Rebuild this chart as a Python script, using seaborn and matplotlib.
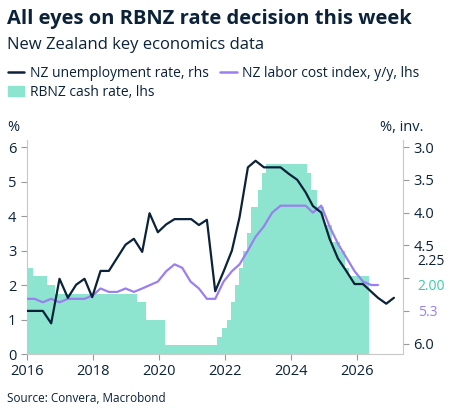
import matplotlib
matplotlib.use("Agg")
import matplotlib.pyplot as plt
import seaborn as sns
import numpy as np
import pandas as pd
from matplotlib.patches import Patch
from matplotlib.lines import Line2D

sns.set_style("ticks")
plt.rcParams['font.family'] = ['Open Sans', 'DejaVu Sans']

NAVY = "#0b2239"; PURPLE = "#9b7ff0"; TEAL = "#8de5cf"; TEALTXT = "#3cc9a8"

# Cash rate steps (start year, level)
cash_x = [2016.0, 2016.18, 2016.6, 2016.85, 2019.35, 2019.6, 2020.2, 2021.75, 2021.9, 2022.05,
          2022.18, 2022.3, 2022.42, 2022.54, 2022.66, 2022.8, 2023.0, 2023.13, 2023.26, 2024.48,
          2024.62, 2024.78, 2025.0, 2025.26, 2025.5, 2025.64, 2025.77, 2026.38]
cash_y = [2.5, 2.25, 2.0, 1.75, 1.5, 1.0, 0.25, 0.5, 0.75, 1.0,
          1.5, 2.0, 2.5, 3.0, 3.5, 4.25, 4.75, 5.25, 5.5, 5.25,
          4.75, 4.25, 3.75, 3.25, 3.0, 2.5, 2.25, 2.25]

unemp_px = [82,130,155,180,205,230,255,278,303,328,353,378,403,428,450,475,500,525,550,575,598,622,
            647,672,697,720,745,768,793,843,868,893,918,940,965,990,1015,1040,1065,1090,1135,1160,1183]
unemp = [5.5,5.5,5.69,5.01,5.3,5.1,5.01,5.29,4.89,4.89,4.69,4.49,4.4,4.6,4.01,4.3,4.18,4.1,4.1,4.1,4.19,4.11,
         5.2,4.9,4.58,4.07,3.31,3.21,3.31,3.31,3.41,3.5,3.69,3.9,4.0,4.4,4.7,4.89,5.09,5.09,5.3,5.39,5.3]
unemp_x = [2016 + (p - 82) / 99 for p in unemp_px]

lci_px = [82,105,130,155,180,205,255,280,303,328,353,378,403,428,475,500,525,548,573,598,622,647,672,697,
          720,745,768,793,818,843,918,940,965,990,1015,1040,1065,1090,1115,1135]
lci = [1.6,1.6,1.5,1.6,1.5,1.6,1.6,1.7,1.9,1.8,1.8,1.9,1.8,1.9,2.1,2.4,2.6,2.5,2.1,1.9,1.6,1.6,2.1,2.4,
       2.6,3.0,3.4,3.7,4.1,4.3,4.3,4.1,4.3,3.7,3.2,2.8,2.4,2.1,2.0,2.0]
lci_x = [2016 + (p - 82) / 99 for p in lci_px]

fig = plt.figure(figsize=(4.55, 4.17), dpi=100)
ax = fig.add_axes([0.059, 0.151, 0.827, 0.513])
ax.fill_between(cash_x, cash_y, step='post', color=TEAL, lw=0, zorder=1)
sns.lineplot(x=lci_x, y=lci, ax=ax, color=PURPLE, lw=1.6, zorder=3)
ax.set_xlim(2016, 2027.4)
ax.set_ylim(0, 6.2)
ax.set_xticks(range(2016, 2027, 2))
ax.set_yticks(range(0, 7))
ax2 = ax.twinx()
sns.lineplot(x=unemp_x, y=unemp, ax=ax2, color=NAVY, lw=1.6, zorder=4)
ax2.set_ylim(3.0 + 6 * 3 / 5.7, 3.0 - 0.2 * 3 / 5.7)
ax2.set_yticks([3.0, 3.5, 4.0, 4.5, 5.0, 5.5, 6.0])
ax2.set_yticklabels(["3.0", "3.5", "4.0", "4.5", "", "", "6.0"])
ax.set_zorder(ax2.get_zorder() + 1); ax.patch.set_visible(False)
# keep unemployment line on top: draw on ax2 then reorder
ax.set_zorder(0); ax2.set_zorder(1); ax2.patch.set_visible(False)

for a in (ax, ax2):
    for s in a.spines.values():
        s.set_color("#c8c8c8")
    a.spines['top'].set_visible(False)
    a.tick_params(colors=NAVY, labelsize=10.5, length=4)
    a.tick_params(axis='both', color="#999999")
ax.spines['right'].set_visible(False)
ax2.spines['left'].set_visible(False)
ax2.spines['bottom'].set_visible(False)

bb = dict(facecolor='white', edgecolor='none', pad=0.5)
fig.text(0.918, 0.372, "2.25", color=NAVY, fontsize=10, ha='left', va='center', bbox=bb)
fig.text(0.918, 0.312, "2.00", color=TEALTXT, fontsize=10, ha='left', va='center')
fig.text(0.918, 0.250, "5.3", color=PURPLE, fontsize=10, ha='left', va='center')

fig.text(0.015, 0.685, "%", color=NAVY, fontsize=10.5)
fig.text(0.835, 0.685, "%, inv.", color=NAVY, fontsize=10.5)

fig.text(0.015, 0.955, "All eyes on RBNZ rate decision this week", color=NAVY, fontsize=14.5,
         fontweight='bold', va='center')
fig.text(0.015, 0.893, "New Zealand key economics data", color=NAVY, fontsize=12, va='center')
fig.text(0.015, 0.045, "Source: Convera, Macrobond", color=NAVY, fontsize=8.5, va='center')

handles = [Line2D([], [], color=NAVY, lw=1.8), Patch(color=TEAL), Line2D([], [], color=PURPLE, lw=1.8)]
labels = ["NZ unemployment rate, rhs", "RBNZ cash rate, lhs", "NZ labor cost index, y/y, lhs"]
fig.legend(handles, labels, ncol=2, loc='upper left', bbox_to_anchor=(0.005, 0.855), frameon=False,
           fontsize=10, labelcolor=NAVY, handlelength=1.2, handletextpad=0.4, columnspacing=0.8,
           labelspacing=0.3, borderaxespad=0)
fig.savefig("out.png", dpi=100)
